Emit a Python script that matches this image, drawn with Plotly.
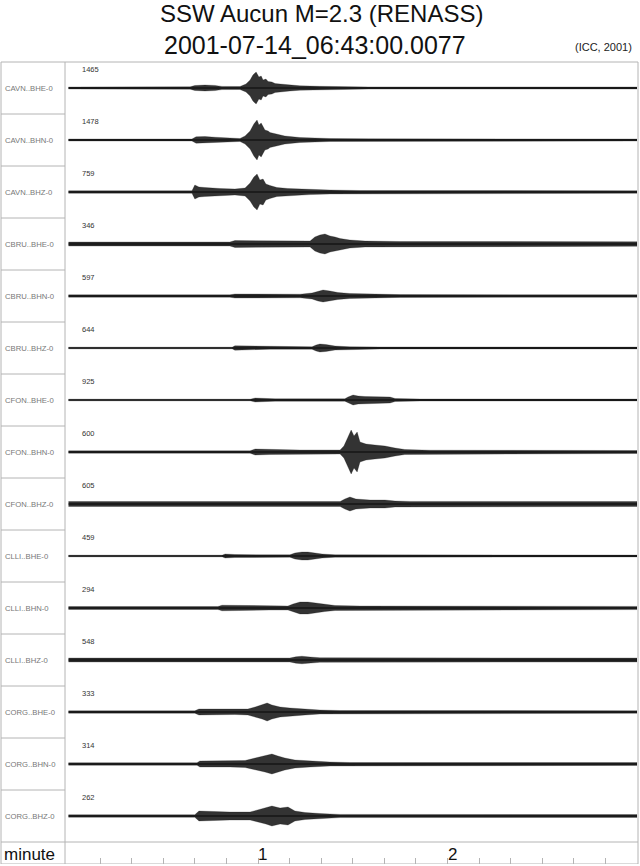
import plotly.graph_objects as go

# ---------------- data ----------------
channels = ["CAVN..BHE-0", "CAVN..BHN-0", "CAVN..BHZ-0",
            "CBRU..BHE-0", "CBRU..BHN-0", "CBRU..BHZ-0",
            "CFON..BHE-0", "CFON..BHN-0", "CFON..BHZ-0",
            "CLLI..BHE-0", "CLLI..BHN-0", "CLLI..BHZ-0",
            "CORG..BHE-0", "CORG..BHN-0", "CORG..BHZ-0"]
peak_counts = ["1465", "1478", "759", "346", "597", "644", "925", "600",
               "605", "459", "294", "548", "333", "314", "262"]

# envelope (half amplitude, display units), time in seconds
cavn_bhe_t = [0, 38.5, 40.0, 43.2, 46.4, 48.6, 54.3, 56.2, 57.5, 58.4, 59.4, 60.3, 61.0, 61.6, 62.5, 63.2, 64.4, 65.4, 67.0, 70.1, 73.3, 79.6, 86.0, 95.0, 180]
cavn_bhe_a = [1.0, 1.2, 2.5, 3.0, 2.6, 1.6, 1.5, 4.0, 8.0, 13.0, 16.0, 11.0, 12.0, 8.0, 9.0, 6.5, 6.0, 4.5, 4.0, 3.0, 2.2, 1.7, 1.3, 1.1, 1.0]
cavn_bhn_t = [0, 39.1, 40.4, 43.2, 46.4, 51.1, 54.3, 55.9, 57.5, 58.7, 59.7, 60.3, 61.0, 62.2, 63.2, 63.8, 66.3, 68.5, 73.3, 78.0, 82.8, 95.0, 180]
cavn_bhn_a = [1.0, 1.0, 3.2, 3.5, 2.8, 2.0, 1.5, 4.0, 9.0, 16.0, 20.0, 15.0, 17.0, 10.0, 9.0, 7.5, 5.5, 4.0, 2.5, 2.0, 1.5, 1.2, 1.0]
cavn_bhz_t = [0, 39.1, 40.0, 41.3, 43.2, 44.8, 48.0, 52.7, 55.9, 57.5, 58.7, 59.7, 60.6, 61.6, 62.5, 63.8, 66.0, 69.5, 76.5, 82.8, 92.3, 180]
cavn_bhz_a = [1.3, 1.3, 7.0, 5.0, 4.5, 4.0, 3.5, 3.0, 4.0, 9.0, 15.0, 18.0, 12.0, 13.0, 8.0, 6.5, 4.5, 3.5, 2.6, 2.0, 1.5, 1.3]
cbru_bhe_t = [0, 51.1, 52.7, 60.6, 70.1, 76.5, 78.0, 79.6, 81.2, 82.8, 84.4, 86.0, 89.1, 93.9, 105.0, 180]
cbru_bhe_a = [2.0, 2.0, 3.5, 3.5, 3.0, 3.0, 7.0, 9.0, 10.0, 8.0, 7.0, 5.5, 4.0, 3.0, 2.5, 2.3]
cbru_bhn_t = [0, 51.1, 52.7, 73.3, 77.1, 79.0, 80.6, 82.8, 85.3, 89.1, 95.5, 105.0, 180]
cbru_bhn_a = [1.2, 1.2, 2.0, 1.8, 3.0, 5.0, 6.0, 5.0, 3.5, 2.5, 1.8, 1.4, 1.3]
cbru_bhz_t = [0, 51.8, 52.7, 57.5, 63.8, 77.1, 78.4, 79.6, 81.5, 84.4, 89.1, 98.6, 180]
cbru_bhz_a = [0.8, 0.8, 2.2, 2.0, 1.2, 1.2, 3.0, 4.0, 3.5, 2.0, 1.2, 1.0, 0.9]
cfon_bhe_t = [0, 57.5, 59.1, 62.2, 65.4, 87.5, 88.5, 90.1, 91.7, 93.9, 98.6, 101.8, 103.4, 111.3, 180]
cfon_bhe_a = [0.8, 0.8, 2.0, 1.8, 1.2, 1.2, 3.0, 5.0, 4.0, 3.5, 3.5, 3.0, 1.5, 1.0, 0.9]
cfon_bhn_t = [0, 57.5, 59.1, 63.8, 73.3, 86.0, 87.2, 88.5, 89.5, 90.4, 91.4, 92.3, 94.2, 97.0, 100.2, 103.4, 106.5, 114.5, 180]
cfon_bhn_a = [1.2, 1.2, 3.0, 2.5, 2.0, 2.0, 6.0, 15.0, 22.0, 16.0, 20.0, 10.0, 8.0, 7.0, 6.0, 4.0, 2.5, 1.8, 1.5]
cfon_bhz_t = [0, 86.0, 87.5, 89.1, 91.0, 95.5, 100.2, 103.4, 108.1, 180]
cfon_bhz_a = [2.5, 2.5, 5.0, 7.0, 5.0, 4.0, 4.0, 3.0, 2.6, 2.5]
clli_bhe_t = [0, 48.6, 49.6, 52.7, 60.6, 70.1, 71.7, 73.9, 75.8, 78.0, 80.3, 84.4, 180]
clli_bhe_a = [0.8, 0.8, 2.0, 1.5, 1.2, 1.2, 3.0, 4.0, 4.0, 3.0, 2.0, 1.2, 0.9]
clli_bhn_t = [0, 47.3, 48.6, 54.3, 63.8, 69.5, 71.1, 73.3, 75.8, 78.4, 81.2, 84.4, 92.3, 180]
clli_bhn_a = [1.5, 1.5, 2.8, 2.5, 2.0, 2.0, 4.0, 6.0, 6.0, 5.0, 3.5, 2.5, 2.0, 1.6]
clli_bhz_t = [0, 70.1, 72.0, 73.9, 76.5, 79.6, 180]
clli_bhz_a = [2.0, 2.0, 3.2, 3.8, 3.0, 2.3, 2.0]
corg_bhe_t = [0, 40.0, 41.3, 46.4, 52.7, 56.8, 59.1, 61.3, 62.9, 64.4, 67.0, 70.1, 74.9, 79.6, 86.0, 180]
corg_bhe_a = [1.2, 1.2, 3.0, 3.0, 2.5, 3.0, 5.0, 7.0, 9.0, 7.0, 5.0, 4.0, 3.0, 2.0, 1.5, 1.3]
corg_bhn_t = [0, 40.7, 41.6, 51.1, 55.9, 59.1, 62.2, 64.4, 66.3, 68.5, 71.7, 76.5, 82.8, 89.1, 180]
corg_bhn_a = [1.3, 1.3, 3.0, 3.0, 3.5, 6.0, 8.0, 10.0, 8.0, 6.0, 4.0, 3.0, 2.0, 1.5, 1.4]
corg_bhz_t = [0, 40.0, 41.3, 44.8, 51.1, 57.5, 60.0, 62.5, 64.4, 67.0, 69.5, 71.7, 74.9, 79.6, 86.0, 180]
corg_bhz_a = [1.3, 1.3, 5.0, 4.5, 4.0, 4.0, 6.0, 8.0, 10.0, 8.0, 9.0, 5.0, 3.5, 2.5, 1.6, 1.4]

envelopes = [(cavn_bhe_t, cavn_bhe_a), (cavn_bhn_t, cavn_bhn_a), (cavn_bhz_t, cavn_bhz_a),
             (cbru_bhe_t, cbru_bhe_a), (cbru_bhn_t, cbru_bhn_a), (cbru_bhz_t, cbru_bhz_a),
             (cfon_bhe_t, cfon_bhe_a), (cfon_bhn_t, cfon_bhn_a), (cfon_bhz_t, cfon_bhz_a),
             (clli_bhe_t, clli_bhe_a), (clli_bhn_t, clli_bhn_a), (clli_bhz_t, clli_bhz_a),
             (corg_bhe_t, corg_bhe_a), (corg_bhn_t, corg_bhn_a), (corg_bhz_t, corg_bhz_a)]

minute_ticks = [1, 2]

# ---------------- layout helpers ----------------
W, H = 640, 866
ROW_PX = 52.0
TOP_PX = 62.0
BOT_PX = 864.0
n = len(channels)
AMP_SCALE = 1.0 / ROW_PX   # display units -> row units

def py(p):  # pixel y -> paper
    return 1 - p / H

def row(p):  # pixel y -> row units
    return (p - TOP_PX) / ROW_PX

fig = go.Figure()

for i, (t, a) in enumerate(envelopes):
    c = i + 0.5
    xm = [v / 60.0 for v in t]
    xs = xm + xm[::-1]
    ys = [c - v * AMP_SCALE for v in a] + [c + v * AMP_SCALE for v in a[::-1]]
    fig.add_trace(go.Scatter(x=xs, y=ys, mode="lines", fill="toself",
                             fillcolor="rgba(0,0,0,0.8)",
                             line=dict(color="rgba(0,0,0,0.45)", width=0.5),
                             hoverinfo="skip", showlegend=False))
    fig.add_trace(go.Scatter(x=[xm[0], xm[-1]], y=[c, c], mode="lines",
                             line=dict(color="black", width=0.9),
                             hoverinfo="skip", showlegend=False))

GRID = "#b4b4b4"
shapes = []
shapes.append(dict(type="rect", xref="paper", yref="y", x0=1 / W, x1=638 / W,
                   y0=0, y1=row(BOT_PX), line=dict(color=GRID, width=1)))
shapes.append(dict(type="line", xref="paper", yref="y", x0=65 / W, x1=65 / W,
                   y0=0, y1=row(BOT_PX), line=dict(color=GRID, width=1)))
for i in range(1, n):
    shapes.append(dict(type="line", xref="paper", yref="y", x0=1 / W, x1=65 / W,
                       y0=i, y1=i, line=dict(color=GRID, width=1)))
shapes.append(dict(type="line", xref="paper", yref="y", x0=1 / W, x1=638 / W,
                   y0=n, y1=n, line=dict(color=GRID, width=1)))

ann = []
FONT = "Liberation Sans, Arial, Helvetica, sans-serif"
ann.append(dict(text="SSW Aucun M=2.3 (RENASS)", x=321 / W, y=py(14), xref="paper", yref="paper",
                showarrow=False, xanchor="center", yanchor="middle",
                font=dict(family=FONT, size=24, color="#111")))
ann.append(dict(text="2001-07-14_06:43:00.0077", x=315 / W, y=py(45), xref="paper", yref="paper",
                showarrow=False, xanchor="center", yanchor="middle",
                font=dict(family=FONT, size=25, color="#111")))
ann.append(dict(text="(ICC, 2001)", x=634 / W, y=py(47), xref="paper", yref="paper",
                showarrow=False, xanchor="right", yanchor="middle",
                font=dict(family=FONT, size=11, color="#222")))
for i, ch in enumerate(channels):
    ann.append(dict(text=ch, x=3 / W, y=i + 0.5, xref="paper", yref="y",
                    showarrow=False, xanchor="left", yanchor="middle",
                    font=dict(family=FONT, size=7.7, color="#777")))
    ann.append(dict(text=peak_counts[i], x=80 / W, y=i + 7 / ROW_PX, xref="paper", yref="y",
                    showarrow=False, xanchor="left", yanchor="middle",
                    font=dict(family=FONT, size=7.5, color="#333")))
ann.append(dict(text="minute", x=2 / W, y=row(854), xref="paper", yref="y",
                showarrow=False, xanchor="left", yanchor="middle",
                font=dict(family=FONT, size=17, color="#111")))
for m in minute_ticks:
    ann.append(dict(text=str(m), x=m, y=row(854), xref="x", yref="y",
                    showarrow=False, xanchor="left", yanchor="middle", xshift=-2,
                    font=dict(family=FONT, size=17, color="#111")))

X0_PX, X1_PX = 66.0, 637.0
T0_PX, PX_PER_MIN = 68.5, 189.5
tick_vals = [k / 6 for k in range(1, 18)]

fig.update_layout(
    width=W, height=H, margin=dict(l=0, r=0, t=0, b=0, pad=0),
    paper_bgcolor="white", plot_bgcolor="white",
    shapes=shapes, annotations=ann,
    xaxis=dict(domain=[X0_PX / W, X1_PX / W],
               range=[(X0_PX - T0_PX) / PX_PER_MIN, (X1_PX - T0_PX) / PX_PER_MIN],
               showgrid=False, zeroline=False, showline=False,
               tickmode="array", tickvals=tick_vals, ticks="inside", ticklen=6,
               tickcolor=GRID, tickwidth=1, showticklabels=False),
    yaxis=dict(domain=[(H - BOT_PX) / H, 1], range=[row(BOT_PX), row(0)],
               showgrid=False, zeroline=False, showline=False, showticklabels=False,
               ticks=""),
)

fig.write_html("out.html", config={"displayModeBar": False, "staticPlot": True},
               post_script="document.body.style.margin='0';document.body.style.padding='0';")
